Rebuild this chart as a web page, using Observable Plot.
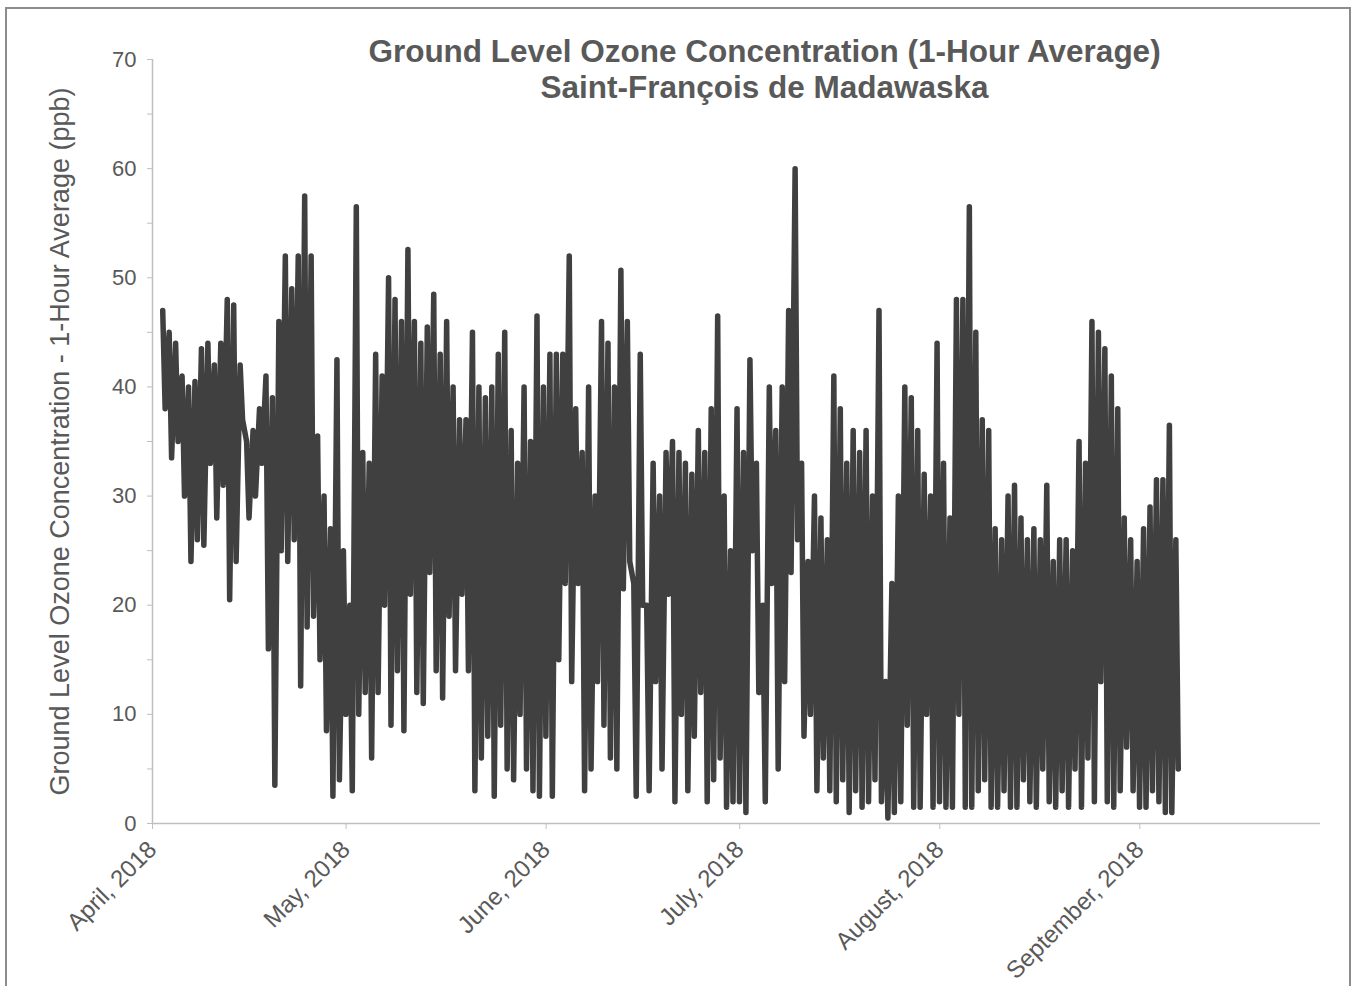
<!DOCTYPE html>
<html><head><meta charset="utf-8">
<script src="https://cdn.jsdelivr.net/npm/d3@7"></script>
<script src="https://cdn.jsdelivr.net/npm/@observablehq/plot@0.6"></script>
<style>
html,body{margin:0;padding:0;background:#fff;overflow:hidden;}
#wrap{position:relative;width:1357px;height:986px;overflow:hidden;}
#border{position:absolute;left:5px;top:7px;width:1346px;height:1100px;border:2px solid #8c8c8c;box-sizing:border-box;pointer-events:none;}
#chart{position:absolute;left:0;top:0;}
</style></head><body><div id="wrap"><div id="chart"></div><div id="border"></div></div>
<script>
const title = "Ground Level Ozone Concentration (1-Hour Average)";
const subtitle = "Saint-François de Madawaska";
const yLabel = "Ground Level Ozone Concentration - 1-Hour Average (ppb)";
const firstDay = "2018-04-02";
const xDomain = ["2018-04-01", "2018-09-29"];
const monthTicks = ["2018-04-01","2018-05-01","2018-06-01","2018-07-01","2018-08-01","2018-09-01"];
const yTicks = [0,10,20,30,40,50,60,70];
const yMinorTicks = [5,15,25,35,45,55,65];

// daily afternoon peak (ppb), Apr 2 .. Sep 6
const dailyPeak = [
 47,45,44,41,40,40.5,43.5,44,42,44,48,47.5,42,35,36,38,41,39,46,52,49,52,57.5,52,35.5,30,27,42.5,25,
 20,56.5,34,33,43,41,50,48,46,52.6,46,44,45.5,48.5,43,46,40,37,37,45,40,39,40,43,45,36,33,40,35,46.5,40,
 43,43,43,52,38,34,40,30,46,44,40,50.7,46,22,43,20,33,30,34,35,34,33,32,36,34,38,46.5,30,25,38,
 34,42.5,33,20,40,36,40,47,60,33,24,30,28,26,41,38,33,36,34,36,30,47,13,22,30,40,39,36,32,30,44,
 33,28,48,48,56.5,45,37,36,27,26,30,31,28,26,27,26,31,24,26,26,25,35,33,46,45,43.5,41,38,28,26,24,
 27,29,31.5,31.5,36.5,26
];
// daily night low (ppb), Apr 2 .. Sep 6
const dailyLow = [
 38,33.5,35,30,24,26,25.5,33,28,31,20.5,24,37,28,30,33,16,3.5,25,24,26,12.6,18,19,15,8.5,2.5,4,10,
 3,10,12,6,12,20,9,14,8.5,21,12,11,23,14,11.5,19,14,21,14,3,6,8,2.5,9,5,4,10,5,3,2.5,8,
 2.5,15,22,13,22,3,5,13,9,6,5,21.5,24,2.5,20,3,13,5,21,2,10,3,8,12,2,4,6,1.5,2,2,
 1,25,12,2,22,5,13,23,26,8,10,3,6,3,2,4,1,3,1.5,2,4,2,0.5,1,2,9,1.5,1.5,10,1.5,2,
 1.5,1.5,10,1.5,1.5,3,4,1.5,1.5,3,1.5,1.5,4,2,1.5,5,2,1.5,3,1.5,5,1.5,6,2,13,2,1.5,3,7,3,1.5,
 1.5,3,2,1,1,5
];

const DAY = 864e5, HOUR = 36e5;
const start = new Date(firstDay + "T00:00:00Z");
const series = [];
dailyPeak.forEach((p, i) => {
  const d0 = start.getTime() + i * DAY;
  series.push({t: new Date(d0 + 14 * HOUR), v: p});
  series.push({t: new Date(d0 + 23 * HOUR), v: dailyLow[i]});
});

const grey = "#595959", axisGrey = "#bfbfbf";
const font = "'Liberation Sans', Arial, sans-serif";
const fmt = d3.utcFormat("%B, %Y");
const toDate = s => new Date(s + "T00:00:00Z");

const chart = Plot.plot({
  width: 1357, height: 986,
  marginLeft: 152, marginRight: 37, marginTop: 59, marginBottom: 163,
  style: {fontFamily: font, background: "transparent"},
  x: {type: "utc", domain: xDomain.map(toDate)},
  y: {domain: [0, 70]},
  marks: [
    Plot.ruleX([toDate(xDomain[0])], {stroke: axisGrey, strokeWidth: 1.5}),
    Plot.ruleY([0], {stroke: axisGrey, strokeWidth: 1.5}),
    Plot.axisY({ticks: yTicks, tickSize: 5, tickPadding: 11, stroke: axisGrey, fill: grey, fontSize: 22, label: null}),
    Plot.axisY({ticks: yMinorTicks, tickSize: 5, text: null, stroke: axisGrey, label: null}),
    Plot.axisX({ticks: monthTicks.map(toDate), tickSize: 6, tickPadding: 16,
      tickRotate: -45, tickFormat: fmt, stroke: axisGrey, fill: grey, fontSize: 24, label: null}),
    Plot.line(series, {x: "t", y: "v", stroke: "#404040", strokeWidth: 5.5, strokeLinejoin: "round", strokeLinecap: "round"}),
    Plot.text([yLabel], {frameAnchor: "left", dx: -92, rotate: -90, fontSize: 27, fill: grey, textAnchor: "middle", lineAnchor: "middle"}),
    Plot.text([title], {frameAnchor: "top", dx: 28, dy: -8, fontSize: 31.5, fontWeight: "bold", fill: grey, textAnchor: "middle", lineAnchor: "middle"}),
    Plot.text([subtitle], {frameAnchor: "top", dx: 28, dy: 28, fontSize: 31.5, fontWeight: "bold", fill: grey, textAnchor: "middle", lineAnchor: "middle"})
  ]
});
document.getElementById("chart").appendChild(chart);
</script>
</body></html>
